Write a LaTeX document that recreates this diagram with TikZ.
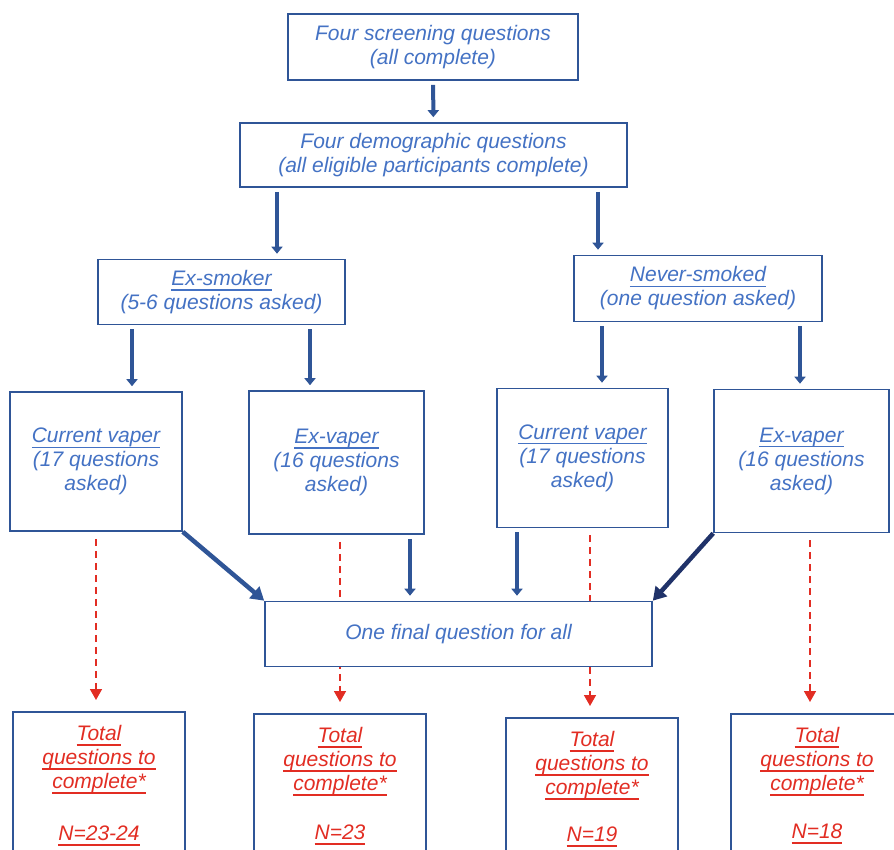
\documentclass[tikz,border=0pt]{standalone}
\usepackage{fontspec}
\setmainfont{Liberation Sans}
\usepackage{xcolor}
\usetikzlibrary{arrows.meta,backgrounds}
\definecolor{txtblue}{RGB}{68,114,196}
\definecolor{boxblue}{RGB}{47,85,151}
\definecolor{navyblue}{RGB}{32,50,105}
\definecolor{qred}{RGB}{226,45,35}
\newsavebox{\ulqbox}
\newcommand{\ulq}[1]{\sbox{\ulqbox}{#1}\rlap{\rule[-5.2pt]{\wd\ulqbox}{1.3pt}}\usebox{\ulqbox}}

\begin{document}
\begin{tikzpicture}[x=1pt, y=-1pt,
  qbox/.style={draw=boxblue, line width=1.6pt, fill=white, text=txtblue, align=center, inner sep=0pt, font=\fontsize{21}{24}\selectfont\itshape},
  totbox/.style={draw=boxblue, line width=1.6pt, fill=white, minimum width=172, minimum height=180, anchor=north, inner sep=0pt},
  tottext/.style={text=qred, align=center, anchor=north, inner sep=0pt, font=\fontsize{21}{24}\selectfont\itshape},
  blarrow/.style={draw=boxblue, line width=4pt, shorten <=4pt, shorten >=5pt, -{Triangle[width=11pt,length=7pt]}},
  bigarrow/.style={line width=4.5pt, -{Triangle[width=15pt,length=13pt]}},
  redarrow/.style={draw=qred, line width=1.6pt, dash pattern=on 7pt off 5pt, shorten <=7pt, shorten >=11pt, -{Triangle[width=12pt,length=11pt]}}]
\useasboundingbox (0,0) rectangle (894,849);
\clip (0,0) rectangle (894,849);

\node[qbox, minimum width=290, minimum height=66] (scr) at (433,47) {Four screening questions\\(all complete)};
\node[qbox, minimum width=387, minimum height=64] (dem) at (433.5,155) {Four demographic questions\\(all eligible participants complete)};
\node[qbox, minimum width=247, minimum height=65] (exs) at (221.5,292) {\ulq{Ex-smoker}\\(5-6 questions asked)};
\node[qbox, minimum width=248, minimum height=66] (nev) at (698,288.5) {\ulq{Never-smoked}\\(one question asked)};
\node[qbox, minimum width=172, minimum height=139] (cv1) at (96,461.5) {\ulq{Current vaper}\\(17 questions\\asked)};
\node[qbox, minimum width=175, minimum height=143] (ev1) at (336.5,462.5) {\ulq{Ex-vaper}\\(16 questions\\asked)};
\node[qbox, minimum width=171, minimum height=139] (cv2) at (582.5,458) {\ulq{Current vaper}\\(17 questions\\asked)};
\node[qbox, minimum width=175, minimum height=143] (ev2) at (801.5,461) {\ulq{Ex-vaper}\\(16 questions\\asked)};
\node[qbox, minimum width=387, minimum height=65] (fin) at (458.5,634) {One final question for all};

\node[totbox] (tot1) at (99,711) {};
\node[totbox] (tot2) at (340,713) {};
\node[totbox] (tot3) at (592,717) {};
\node[totbox] (tot4) at (817,713) {};
\node[tottext] (tot1txt) at ([yshift=-14]tot1.north) {\ulq{Total}\\\ulq{questions to}\\\ulq{complete*}\\[28pt]\ulq{N=23-24}};
\node[tottext] (tot2txt) at ([yshift=-14]tot2.north) {\ulq{Total}\\\ulq{questions to}\\\ulq{complete*}\\[25pt]\ulq{N=23}};
\node[tottext] (tot3txt) at ([yshift=-14]tot3.north) {\ulq{Total}\\\ulq{questions to}\\\ulq{complete*}\\[23pt]\ulq{N=19}};
\node[tottext] (tot4txt) at ([yshift=-14]tot4.north) {\ulq{Total}\\\ulq{questions to}\\\ulq{complete*}\\[24pt]\ulq{N=18}};

\draw[blarrow] (scr) -- (dem);
\draw[blarrow] (277,0 |- dem.south) -- (277,0 |- exs.north);
\draw[blarrow] (598,0 |- dem.south) -- (598,0 |- nev.north);
\draw[blarrow] (132,0 |- exs.south) -- (132,0 |- cv1.north);
\draw[blarrow] (310,0 |- exs.south) -- (310,0 |- ev1.north);
\draw[blarrow] (602,0 |- nev.south) -- (602,0 |- cv2.north);
\draw[blarrow] (800,0 |- nev.south) -- (800,0 |- ev2.north);
\draw[blarrow] (410,0 |- ev1.south) -- (410,0 |- fin.north);
\draw[blarrow] (517,0 |- cv2.south) -- (517,0 |- fin.north);
\draw[bigarrow, draw=boxblue] (cv1.south east) -- (fin.north west);
\draw[bigarrow, draw=navyblue] (ev2.south west) -- (fin.north east);

\begin{pgfonlayer}{background}
\draw[redarrow] (cv1.south) -- (cv1.south |- tot1.north);
\draw[redarrow] (tot2.north |- ev1.south) -- (tot2.north);
\draw[redarrow] (590,0 |- cv2.south) -- (590,0 |- tot3.north);
\draw[redarrow] (810,0 |- ev2.south) -- (810,0 |- tot4.north);
\end{pgfonlayer}
\end{tikzpicture}
\end{document}
